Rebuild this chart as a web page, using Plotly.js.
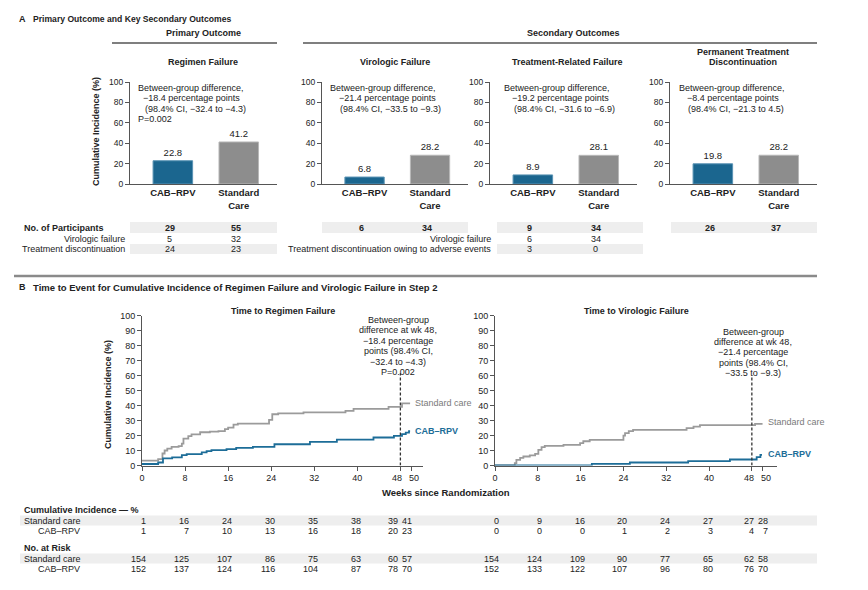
<!DOCTYPE html>
<html>
<head>
<meta charset="utf-8">
<script src="https://cdn.plot.ly/plotly-3.0.1.min.js"></script>
<style>html,body{margin:0;padding:0;background:#fff;}#chart{width:868px;height:590px;}</style>
</head>
<body>
<div id="chart"></div>
<script>
// ---------------- DATA ----------------
const groups = ['CAB–RPV', 'Standard Care'];
const groupTickText = ['CAB–RPV', 'Standard<br>Care'];
const outcomeTitles = ['Regimen Failure', 'Virologic Failure', 'Treatment-Related Failure', 'Permanent Treatment<br>Discontinuation'];
const cabIncidence = [22.8, 6.8, 8.9, 19.8];
const stdIncidence = [41.2, 28.2, 28.1, 28.2];
const diffLines = [
  ['Between-group difference,', '−18.4 percentage points', '(98.4% CI, −32.4 to −4.3)', 'P=0.002'],
  ['Between-group difference,', '−21.4 percentage points', '(98.4% CI, −33.5 to −9.3)'],
  ['Between-group difference,', '−19.2 percentage points', '(98.4% CI, −31.6 to −6.9)'],
  ['Between-group difference,', '−8.4 percentage points', '(98.4% CI, −21.3 to 4.5)']
];
const participantsCab = [29, 6, 9, 26];
const participantsStd = [55, 34, 34, 37];
const regimenDetailLabels = ['Virologic failure', 'Treatment discontinuation'];
const regimenDetailCab = [5, 24];
const regimenDetailStd = [32, 23];
const trfDetailLabels = ['Virologic failure', 'Treatment discontinuation owing to adverse events'];
const trfDetailCab = [6, 3];
const trfDetailStd = [34, 0];

// Time-to-event curves (weeks, cumulative incidence %)
const rfStdWeeks = [0, 3.0, 3.8, 4.2, 4.7, 5.5, 6.8, 7.4, 7.7, 8.6, 9.2, 10.8, 12.6, 14.2, 15.4, 16.0, 17.0, 17.8, 23.6, 24.2, 25.3, 30.0, 37.8, 39.3, 45.8, 48.3, 49.8];
const rfStdPct   = [3.2, 4.2, 8.0, 10.0, 11.2, 12.4, 13.0, 14.6, 18.0, 19.6, 20.8, 22.2, 22.6, 22.9, 24.3, 25.3, 27.3, 28.0, 30.4, 34.2, 34.8, 35.4, 36.5, 37.8, 39.2, 41.5, 41.5];
const rfCabWeeks = [0, 3.0, 3.9, 5.6, 7.4, 8.3, 11.1, 12.0, 12.9, 15.7, 17.5, 20.6, 24.6, 31.2, 36.2, 43.0, 46.8, 48.3, 49.0, 49.6, 49.8];
const rfCabPct   = [1.0, 2.0, 4.7, 5.4, 6.9, 7.6, 8.7, 9.6, 10.3, 10.9, 11.8, 12.5, 14.2, 15.8, 17.3, 18.7, 19.8, 20.9, 22.0, 22.9, 22.9];
const vfStdWeeks = [0, 2.8, 3.7, 4.0, 4.7, 5.3, 6.5, 7.5, 8.1, 8.7, 9.3, 12.8, 15.9, 16.5, 17.7, 24.0, 24.3, 25.0, 25.8, 35.8, 37.1, 38.3, 48.6, 50.0];
const vfStdPct   = [0, 0, 1.6, 3.8, 5.1, 6.0, 6.7, 7.8, 10.4, 12.2, 13.1, 13.8, 14.9, 16.2, 17.1, 20.0, 21.6, 22.9, 23.8, 24.9, 26.0, 26.9, 27.8, 27.8];
const vfCabWeeks = [0, 18.1, 25.2, 36.1, 43.9, 48.9, 49.6, 49.9];
const vfCabPct   = [0, 1.1, 2.0, 2.9, 4.0, 5.6, 7.1, 7.1];

// Tables below the curves
const tableWeeks = [0, 8, 16, 24, 32, 40, 48, 50];
const weekTickText = ['0', '8', '16', '24', '32', '40', '48', '50'];
const rfCumStd = [1, 16, 24, 30, 35, 38, 39, 41];
const rfCumCab = [1, 7, 10, 13, 16, 18, 20, 23];
const rfRiskStd = [154, 125, 107, 86, 75, 63, 60, 57];
const rfRiskCab = [152, 137, 124, 116, 104, 87, 78, 70];
const vfCumStd = [0, 9, 16, 20, 24, 27, 27, 28];
const vfCumCab = [0, 0, 0, 1, 2, 3, 4, 7];
const vfRiskStd = [154, 124, 109, 90, 77, 65, 62, 58];
const vfRiskCab = [152, 133, 122, 107, 96, 80, 76, 70];

// ---------------- STYLE / LAYOUT ----------------
const W = 868, H = 590;
const F = "'Liberation Sans', Arial, sans-serif";
const FS = 9;
const BLUE = '#1b668f', GRAY = '#8d8d8d', CBLUE = '#1d6d98', CGRAY = '#9b9b9b', AX = '#555', TXT = '#222';
const px = x => x / W, py = y => 1 - y / H;

const ann = [];
const shapes = [];
function T(x, y, text, o = {}) {
  ann.push({xref: 'paper', yref: 'paper', x: px(x), y: py(y), text: text, showarrow: false,
    xanchor: o.a || 'left', yanchor: 'middle', textangle: o.r || 0,
    font: {family: F, size: o.s || FS, color: o.c || TXT}});
}
function L(x0, y0, x1, y1, color, w, dash) {
  shapes.push({type: 'line', xref: 'paper', yref: 'paper', x0: px(x0), y0: py(y0), x1: px(x1), y1: py(y1),
    line: {color: color, width: w, dash: dash || 'solid'}});
}
function band(x0, x1, y0, y1) {
  shapes.push({type: 'rect', xref: 'paper', yref: 'paper', x0: px(x0), x1: px(x1), y0: py(y1), y1: py(y0),
    fillcolor: '#eeeeee', line: {width: 0}, layer: 'below'});
}

const layout = {
  width: W, height: H, margin: {l: 0, r: 0, t: 0, b: 0},
  paper_bgcolor: '#fff', plot_bgcolor: 'rgba(0,0,0,0)', showlegend: false,
  font: {family: F, size: FS, color: TXT}
};

// Bar panels
const barX = [[130, 277], [322, 468], [490, 637], [670, 817]];
const barYDom = [py(184), py(82)];
const traces = [];
const diffX = [[136, 141, 143, 136], [328, 337, 338], [502, 510, 512], [677, 685, 686]];
const titleX = [203, 395, 567, 743];

for (let k = 0; k < 4; k++) {
  const xa = 'xaxis' + (k + 1), ya = 'yaxis' + (k + 1);
  layout[xa] = {domain: [px(barX[k][0]), px(barX[k][1])], anchor: 'y' + (k + 1), type: 'category',
    range: [-0.65, 1.58], tickvals: groups, ticktext: groupTickText, ticks: '', tickangle: 0,
    tickfont: {family: F, size: 9.5, color: TXT, weight: 'bold'},
    showline: true, linecolor: AX, linewidth: 1, showgrid: false, zeroline: false, fixedrange: true};
  layout[ya] = {domain: barYDom, anchor: 'x' + (k + 1), range: [0, 100], tickvals: [0, 20, 40, 60, 80, 100],
    ticks: 'outside', ticklen: 4, tickcolor: AX, tickfont: {family: F, size: 8.5, color: TXT},
    showline: true, linecolor: AX, linewidth: 1, showgrid: false, zeroline: false};
  traces.push({type: 'bar', x: groups, y: [cabIncidence[k], stdIncidence[k]], xaxis: 'x' + (k + 1), yaxis: 'y' + (k + 1),
    width: 0.6, marker: {color: [BLUE, GRAY], line: {color: ['#5a93b4', '#b8b8b8'], width: 1}},
    text: [cabIncidence[k].toFixed(1), stdIncidence[k].toFixed(1)], textposition: 'outside', cliponaxis: false,
    textfont: {family: F, size: 9.5, color: TXT}, hoverinfo: 'skip'});
  diffLines[k].forEach((line, i) => T(diffX[k][i], 88 + i * 10.5, line));
  [participantsCab[k], participantsStd[k]].forEach((v, i) => ann.push({xref: 'x' + (k + 1), yref: 'paper', x: i, y: py(228),
    text: '<b>' + v + '</b>', showarrow: false, xshift: -3, yanchor: 'middle', font: {family: F, size: FS, color: TXT}}));
}
T(titleX[0], 62, '<b>' + outcomeTitles[0] + '</b>', {a: 'center'});
T(titleX[1], 62, '<b>' + outcomeTitles[1] + '</b>', {a: 'center'});
T(titleX[2], 62, '<b>' + outcomeTitles[2] + '</b>', {a: 'center'});
outcomeTitles[3].split('<br>').forEach((t, i) => T(titleX[3], 51.5 + i * 11, '<b>' + t + '</b>', {a: 'center'}));

// headers
T(17, 19, '<b>A</b>', {s: 9});
T(31, 19, '<b>Primary Outcome and Key Secondary Outcomes</b>', {s: 8.6});
T(203, 33, '<b>Primary Outcome</b>', {a: 'center'});
T(573, 33, '<b>Secondary Outcomes</b>', {a: 'center'});
L(112, 43, 277, 43, '#555', 1.5);
L(303, 43, 817, 43, '#555', 1.5);
T(96, 132, '<b>Cumulative Incidence (%)</b>', {a: 'center', r: -90});

// table under bars
band(130, 277, 222, 233); band(322, 468, 222, 233); band(497, 643, 222, 233); band(671, 817, 222, 233);
band(130, 277, 244, 254); band(497, 643, 244, 254);
T(22, 228, '<b>No. of Participants</b>');
const detailRows = [238.5, 249];
regimenDetailLabels.forEach((lab, i) => {
  T(127, detailRows[i], lab, {a: 'right'});
  [regimenDetailCab[i], regimenDetailStd[i]].forEach((v, j) => ann.push({xref: 'x1', yref: 'paper', x: j, y: py(detailRows[i]),
    text: String(v), showarrow: false, xshift: -3, yanchor: 'middle', font: {family: F, size: FS, color: TXT}}));
});
trfDetailLabels.forEach((lab, i) => {
  T(493, detailRows[i], lab, {a: 'right'});
  [trfDetailCab[i], trfDetailStd[i]].forEach((v, j) => ann.push({xref: 'x3', yref: 'paper', x: j, y: py(detailRows[i]),
    text: String(v), showarrow: false, xshift: -3, yanchor: 'middle', font: {family: F, size: FS, color: TXT}}));
});
L(14, 276, 817, 276, '#8a8a8a', 2.5);

// ---------------- Panel B ----------------
T(17, 287, '<b>B</b>', {s: 9});
T(31, 287, '<b>Time to Event for Cumulative Incidence of Regimen Failure and Virologic Failure in Step 2</b>', {s: 9.5});

const curveYDom = [py(465.5), py(315.7)];
const curveX = [[142, 423, 52.2], [495, 777, 52.7]];
for (let k = 0; k < 2; k++) {
  const n = k + 5;
  // 48 and 50 are written as separate labels below so they do not run together
  const tt = weekTickText.map((t, i) => tableWeeks[i] >= 48 ? '' : t);
  layout['xaxis' + n] = {domain: [px(curveX[k][0]), px(curveX[k][1])], anchor: 'y' + n, range: [0, curveX[k][2]],
    tickvals: tableWeeks, ticktext: tt, ticks: 'outside', ticklen: 4, tickcolor: AX, tickangle: 0,
    tickfont: {family: F, size: 9, color: TXT}, showline: true, linecolor: AX, linewidth: 1, showgrid: false, zeroline: false};
  layout['yaxis' + n] = {domain: curveYDom, anchor: 'x' + n, range: [0, 100], tickvals: [0, 10, 20, 30, 40, 50, 60, 70, 80, 90, 100],
    ticks: 'outside', ticklen: 4, tickcolor: AX, tickfont: {family: F, size: 9, color: TXT},
    showline: true, linecolor: AX, linewidth: 1, showgrid: false, zeroline: false};
  tableWeeks.forEach((w, i) => {
    if (w < 48) return;
    ann.push({xref: 'x' + n, yref: 'paper', x: w, y: py(477.5), text: weekTickText[i], showarrow: false,
      xanchor: w === 48 ? 'right' : 'left', xshift: w === 48 ? 4 : -4, yanchor: 'middle',
      font: {family: F, size: 9, color: TXT}});
  });
}
function curve(xs, ys, n, color) {
  traces.push({type: 'scatter', mode: 'lines', x: xs, y: ys, xaxis: 'x' + n, yaxis: 'y' + n,
    line: {shape: 'hv', color: color, width: 1.8}, hoverinfo: 'skip', cliponaxis: false});
}
curve(rfStdWeeks, rfStdPct, 5, CGRAY);
curve(rfCabWeeks, rfCabPct, 5, CBLUE);
curve(vfStdWeeks, vfStdPct, 6, CGRAY);
curve(vfCabWeeks, vfCabPct, 6, CBLUE);

shapes.push({type: 'line', xref: 'x5', yref: 'y5', x0: 48, x1: 48, y0: 0, y1: 61.5, line: {color: '#333', width: 1.3, dash: '3px,2px'}});
shapes.push({type: 'line', xref: 'x6', yref: 'y6', x0: 48, x1: 48, y0: 0, y1: 60, line: {color: '#333', width: 1.3, dash: '3px,2px'}});

T(283, 311, '<b>Time to Regimen Failure</b>', {a: 'center'});
T(636, 311, '<b>Time to Virologic Failure</b>', {a: 'center'});
T(108, 395, '<b>Cumulative Incidence (%)</b>', {a: 'center', r: -90});
T(446, 492, '<b>Weeks since Randomization</b>', {a: 'center', s: 9.5});

['Between-group', 'difference at wk 48,', '−18.4 percentage', 'points (98.4% CI,', '−32.4 to −4.3)', 'P=0.002']
  .forEach((t, i) => T(398, 320 + i * 10.45, t, {a: 'center'}));
['Between-group', 'difference at wk 48,', '−21.4 percentage', 'points (98.4% CI,', '−33.5 to −9.3)']
  .forEach((t, i) => T(753, 331.5 + i * 10.45, t, {a: 'center'}));

T(413, 403, 'Standard care', {c: '#7a7a7a'});
T(413, 431, '<b>CAB–RPV</b>', {c: CBLUE});
T(766, 422, 'Standard care', {c: '#7a7a7a'});
T(766, 454, '<b>CAB–RPV</b>', {c: CBLUE});

// tables under curves
band(20, 817, 515.5, 525.5);
band(20, 817, 553.5, 563.5);
T(22, 510, '<b>Cumulative Incidence — %</b>');
T(22, 520.5, 'Standard care');
T(36, 531, 'CAB–RPV');
T(22, 548, '<b>No. at Risk</b>');
T(22, 558.5, 'Standard care');
T(36, 569, 'CAB–RPV');
function row(vals, n, y, s48, s50) {
  vals.forEach((v, i) => {
    const sh = tableWeeks[i] === 48 ? s48 : (tableWeeks[i] === 50 ? s50 : 6);
    ann.push({xref: 'x' + n, yref: 'paper', x: tableWeeks[i], y: py(y), text: String(v), showarrow: false,
      xanchor: 'right', yanchor: 'middle', xshift: sh, font: {family: F, size: FS, color: TXT}});
  });
}
row(rfCumStd, 5, 520.5, 0, 3); row(rfCumCab, 5, 531, 0, 3);
row(rfRiskStd, 5, 558.5, 0, 3); row(rfRiskCab, 5, 569, 0, 3);
row(vfCumStd, 6, 520.5, 4, 7); row(vfCumCab, 6, 531, 4, 7);
row(vfRiskStd, 6, 558.5, 4, 7); row(vfRiskCab, 6, 569, 4, 7);

layout.annotations = ann;
layout.shapes = shapes;
Plotly.newPlot('chart', traces, layout, {staticPlot: true, displayModeBar: false});
</script>
</body>
</html>
